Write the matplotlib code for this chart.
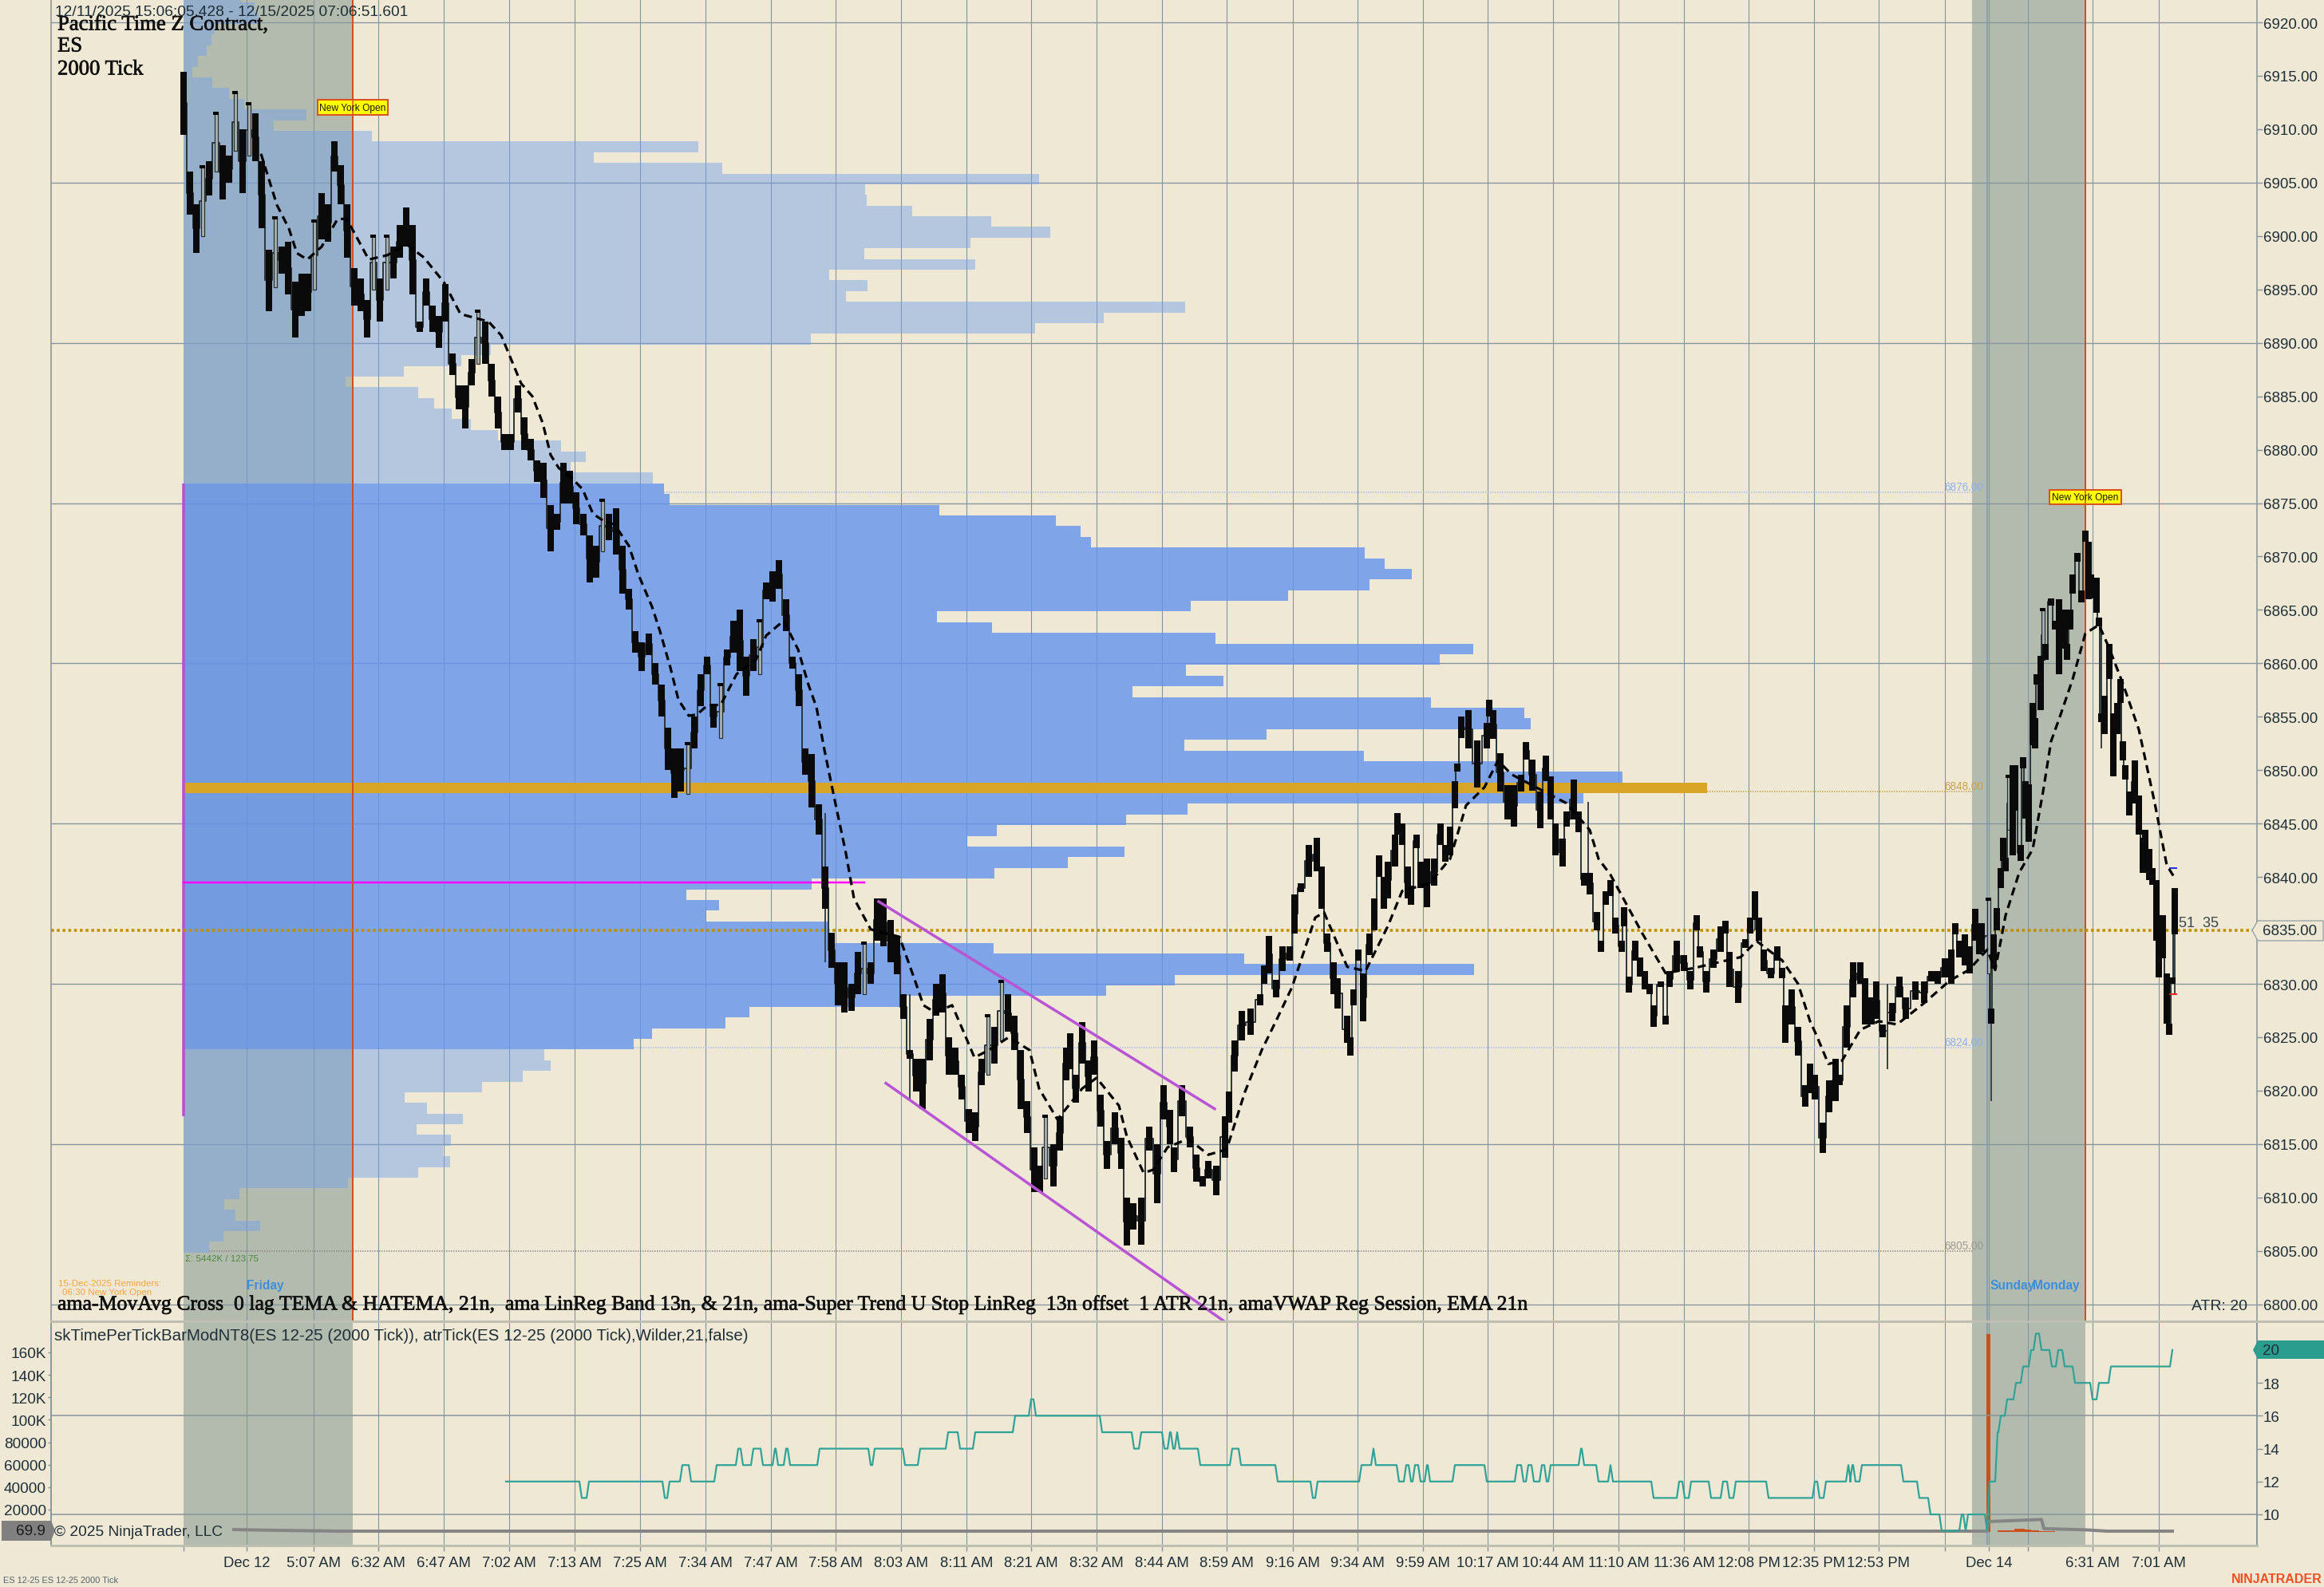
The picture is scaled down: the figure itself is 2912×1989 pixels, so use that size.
import matplotlib
matplotlib.use("Agg")
import matplotlib.pyplot as plt
import matplotlib.patheffects as pe
from matplotlib.patches import Polygon, Rectangle

# chart x is measured in screen slots of the platform, one unit = one reference pixel
W, H = 2912, 1990
BG = "#EFE8D5"
TXT = "#1E2F38"
GRID = "#84949C"

price_ticks = list(range(6800, 6925, 5))
grid_prices = list(range(6800, 6925, 15))
tick_x = [230, 309, 393, 474, 556, 638, 720, 802, 884, 966, 1047, 1129, 1211, 1292, 1374, 1456, 1537,
          1620, 1701, 1783, 1864, 1946, 2028, 2110, 2191, 2273, 2354, 2437, 2492, 2541, 2622, 2705]
tick_labels = ["", "Dec 12", "5:07 AM", "6:32 AM", "6:47 AM", "7:02 AM", "7:13 AM", "7:25 AM", "7:34 AM",
               "7:47 AM", "7:58 AM", "8:03 AM", "8:11 AM", "8:21 AM", "8:32 AM", "8:44 AM", "8:59 AM",
               "9:16 AM", "9:34 AM", "9:59 AM", "10:17 AM", "10:44 AM", "11:10 AM", "11:36 AM", "12:08 PM",
               "12:35 PM", "12:53 PM", "", "Dec 14", "", "6:31 AM", "7:01 AM"]

# volume profile, one entry per price level from 6922 down to 6805
profile_top = 6922
profile_right = [302, 319, 324, 269, 265, 259, 248, 241, 266, 287, 306, 384, 343, 466, 875, 744, 905, 1302,
                 1084, 1086, 1143, 1242, 1316, 1216, 1083, 1222, 1039, 1087, 1060, 1485, 1383, 1297, 1016,
                 615, 578, 506, 433, 524, 544, 566, 590, 624, 703, 734, 715, 818,
                 832, 839, 1177, 1323, 1354, 1367, 1710, 1735, 1769, 1716, 1614, 1492, 1174, 1243, 1523,
                 1846, 1804, 1486, 1533, 1419, 1793, 1910, 1918, 1587, 1484, 1709, 1880, 2033, 2139, 1984,
                 1488, 1411, 1249, 1212, 1409, 1338, 1246, 1017, 860, 901, 884, 1039, 1039, 1245, 1559,
                 1847, 1472, 1386, 1127, 939, 909, 817, 794,
                 682, 690, 655, 604, 507, 535, 580, 522, 565, 555, 564, 524, 436, 300, 281, 295, 326, 280, 262]
value_area_high = 6876
value_area_low = 6824
poc_level = 6848

# candles: slot, body top, body bottom
bar_x = [230, 238, 246, 254, 262, 271, 279, 287, 295, 304, 312, 320, 328, 337, 345, 353, 361, 370, 378, 386,
         394, 403, 411, 419, 427, 435, 444, 452, 460, 468, 476, 485, 493, 501, 509, 517, 526, 534, 542, 550,
         558, 567, 575, 583, 591, 599, 608, 616, 624, 632, 640, 649, 657, 665, 673, 681, 690, 698, 706, 714,
         722, 731, 739, 747, 755, 763, 772, 780, 788, 796, 804, 813, 821, 829, 837, 845, 853, 862, 870, 878,
         886, 894, 903, 911, 919, 927, 935, 944, 952, 960, 968, 976, 985, 993, 1001, 1009, 1017, 1026, 1034,
         1042, 1050, 1058, 1067, 1075, 1083, 1091, 1099, 1107, 1116, 1124, 1132, 1140, 1148, 1156, 1165, 1173,
         1181, 1189, 1197, 1205, 1214, 1222, 1230, 1238, 1246, 1255, 1263, 1271, 1279, 1287, 1296, 1303, 1310,
         1320, 1328, 1336, 1341, 1348, 1356, 1364, 1371, 1379, 1387, 1397, 1405, 1412, 1420, 1430, 1440, 1450,
         1458, 1466, 1471, 1481, 1491, 1499, 1507, 1514, 1524, 1535, 1540, 1547, 1556, 1567, 1579, 1584, 1590,
         1599, 1607, 1616, 1622, 1630, 1640, 1650, 1656, 1663, 1671, 1676, 1688, 1692, 1696, 1702, 1708, 1716,
         1722, 1728, 1734, 1739, 1748, 1751, 1757, 1764, 1768, 1775, 1780, 1788, 1797, 1805, 1811, 1817, 1823,
         1826, 1831, 1840, 1851, 1863, 1866, 1871, 1880, 1889, 1897, 1906, 1912, 1920, 1930, 1937, 1943, 1949,
         1958, 1963, 1972, 1978, 1985, 1992, 2001, 2006, 2012, 2018, 2024, 2032, 2035, 2041, 2049, 2055, 2061,
         2067, 2072, 2081, 2087, 2092, 2101, 2110, 2118, 2126, 2130, 2138, 2147, 2156, 2162, 2167, 2178, 2187,
         2193, 2199, 2204, 2210, 2219, 2227, 2233, 2237, 2245, 2253, 2262, 2268, 2274, 2284, 2292, 2300, 2305,
         2314, 2322, 2331, 2337, 2345, 2351, 2359, 2371, 2380, 2388, 2400, 2411, 2420, 2428, 2437, 2445, 2450,
         2455, 2462, 2468, 2475, 2480, 2483, 2492, 2495, 2498, 2502, 2507, 2510, 2513, 2517, 2522, 2525, 2532,
         2535, 2538, 2542, 2547, 2550, 2552, 2557, 2560, 2563, 2570, 2575, 2580, 2587, 2590, 2594, 2597, 2603,
         2608, 2613, 2617, 2620, 2627, 2630, 2633, 2637, 2643, 2648, 2653, 2657, 2660, 2663, 2668, 2675, 2680,
         2685, 2688, 2693, 2697, 2702, 2705, 2710, 2715, 2718, 2722, 2725]
bar_hi = [6915.4, 6906, 6903, 6906.5, 6907, 6911.5, 6908.5, 6907.5, 6913.4, 6910, 6912.4, 6911.5, 6907, 6898.7, 6901.7,
          6899, 6899.5, 6895.7, 6896.5, 6896.5, 6901.4, 6904, 6903, 6908.9, 6906.6, 6903, 6897, 6896, 6894, 6900,
          6896, 6900, 6899, 6901, 6902.7, 6901, 6892, 6896, 6893.5, 6892.5, 6895.5, 6889, 6886, 6886, 6888.5, 6893,
          6892, 6888, 6885, 6881.5, 6881.5, 6886, 6883, 6881, 6879, 6878.8, 6874.8, 6874, 6878.8, 6878, 6876, 6874,
          6872, 6871, 6875.3, 6874, 6874.5, 6871, 6867, 6863, 6862, 6862.8, 6860, 6858, 6854, 6852, 6852, 6852.5,
          6855, 6859, 6860.6, 6856, 6858, 6861.3, 6864, 6865, 6860.6, 6862.3, 6864, 6867.6, 6868.6, 6869.7, 6866,
          6860.6, 6859, 6852, 6851.5, 6846.8, 6841, 6834.8, 6832, 6832, 6830, 6833, 6833.8, 6832, 6838, 6838, 6836,
          6834.4, 6829, 6823.8, 6823, 6823, 6826.7, 6830, 6830.9, 6825, 6824, 6821.5, 6818.3, 6818, 6823, 6827,
          6826, 6830.2, 6829, 6827, 6823.8, 6819, 6814.7, 6813, 6817.6, 6815, 6817.6, 6824, 6825.4, 6821.5, 6826.4,
          6822.8, 6824.7, 6819.6, 6815.3, 6818, 6815.6, 6810, 6809.5, 6810, 6816.6, 6815, 6820.5, 6818.2, 6814.7,
          6820.5, 6816.6, 6814, 6812, 6813.4, 6813, 6817.6, 6819.9, 6824.7, 6827.5, 6827.7, 6829, 6831.7, 6834.5,
          6830.4, 6833.5, 6833.5, 6838.4, 6839.4, 6843, 6843.7, 6841, 6834.7, 6832, 6830.5, 6827, 6825, 6829.5,
          6833.2, 6831, 6834.7, 6838, 6842, 6840, 6841.4, 6844, 6846, 6845, 6841, 6839.2, 6844, 6841.4, 6841.7,
          6841.7, 6845, 6843, 6844.7, 6849, 6850.6, 6855, 6855.6, 6852.8, 6854.4, 6856.6, 6855.6, 6851.6, 6848.6,
          6848.6, 6849.6, 6852.6, 6851, 6848, 6851.4, 6849.4, 6845, 6843.6, 6846.1, 6849.1, 6846.1, 6840.4, 6840.4,
          6836.7, 6834, 6838.7, 6839.7, 6836.2, 6834, 6837.2, 6830.7, 6834, 6832.5, 6831.2, 6830, 6828, 6830.2,
          6827, 6831.2, 6834, 6832.7, 6831.2, 6836.4, 6833.5, 6831.2, 6833.2, 6835.4, 6835.9, 6833, 6831.2, 6834.2,
          6836.2, 6838.7, 6836.2, 6833.2, 6831.5, 6833.5, 6831.5, 6828, 6829.5, 6826, 6820.5, 6822.5, 6821.5, 6817,
          6821, 6823, 6821.5, 6828, 6832, 6832, 6830.5, 6828.7, 6830.2, 6826.2, 6828.2, 6830.7, 6828.7, 6830.2,
          6830.2, 6831.2, 6831.2, 6832.4, 6833.2, 6835.7, 6834, 6834.6, 6833.5, 6837, 6835.7, 6835.7, 6837.9, 6827.7,
          6834.6, 6837.1, 6840.8, 6843.7, 6841.8, 6849.4, 6850.5, 6850.5, 6843, 6851.2, 6849, 6848.7, 6856.3, 6854.9,
          6859, 6860.7, 6865, 6861.8, 6866.1, 6864, 6866, 6865, 6861.8, 6865, 6868.3, 6870.3, 6866.8, 6872.4, 6871.4,
          6868.3, 6868, 6864.3, 6855.3, 6857, 6861.8, 6855.3, 6856.3, 6858.5, 6852.7, 6850.5, 6848, 6850.9, 6847.6,
          6843.7, 6844.4, 6842.6, 6840.8, 6839.7, 6834, 6836.4, 6831, 6826.3, 6830.6, 6839]
bar_lo = [6909.5, 6902, 6898.4, 6900, 6903.8, 6906, 6903.4, 6905, 6908, 6904, 6907.5, 6907, 6900.7, 6893, 6895.2,
          6896.5, 6894.5, 6890.5, 6892.5, 6893, 6895, 6899.7, 6899.5, 6906, 6903, 6898, 6893.5, 6893, 6890.5, 6895,
          6892, 6895, 6896, 6898, 6899, 6894.5, 6891, 6893.5, 6891, 6889.5, 6892, 6887, 6883.8, 6882, 6886, 6888,
          6888, 6885, 6882, 6880, 6880, 6883.5, 6880, 6879, 6877, 6875.5, 6870.5, 6872.5, 6875, 6875, 6873, 6872,
          6867.6, 6868, 6870.5, 6871.5, 6870.2, 6866.5, 6865, 6861, 6859.3, 6860.8, 6858, 6855, 6850, 6847.4, 6848,
          6847.8, 6852, 6856, 6859, 6854, 6853, 6859.8, 6861, 6859.3, 6857, 6859.3, 6859, 6866, 6865.8, 6867, 6863,
          6859.5, 6856, 6849.6, 6846.5, 6844, 6837, 6831.5, 6828, 6827.3, 6827.5, 6829, 6829, 6830, 6834, 6833.5,
          6832, 6830.9, 6826.7, 6823, 6819.9, 6818.3, 6822.8, 6827, 6827.3, 6821.5, 6821.5, 6819.2, 6816, 6815.3,
          6820.5, 6821.5, 6822.5, 6824.7, 6825.5, 6823.8, 6818.3, 6816, 6810.5, 6810.5, 6811.8, 6811, 6814.4, 6821,
          6822, 6818.9, 6822.5, 6819.9, 6821.5, 6816.6, 6812.7, 6815, 6812.7, 6805.5, 6807, 6805.6, 6814.4, 6809.5,
          6817.3, 6815, 6812.4, 6817.6, 6814.7, 6811.5, 6811, 6811.8, 6810.2, 6813.7, 6817, 6821.8, 6824.7, 6825.2,
          6828, 6830, 6831, 6828.7, 6831.2, 6832.2, 6834.7, 6838.6, 6840, 6840.5, 6837, 6833, 6829, 6827.7, 6824.5,
          6823.3, 6828, 6832.2, 6826.5, 6832.7, 6835, 6840, 6837, 6838, 6841, 6844, 6843, 6838, 6837.4, 6842.7, 6839,
          6837.2, 6839.2, 6843, 6841.4, 6842, 6846.4, 6849.9, 6853, 6852, 6848.4, 6852, 6855, 6852.9, 6848, 6845.4,
          6844.7, 6848, 6851, 6848.1, 6844.6, 6849, 6845.4, 6842, 6841, 6844.7, 6845.4, 6844.2, 6839.2, 6838.4, 6835,
          6833, 6837.4, 6838.2, 6834.7, 6833, 6835.4, 6829.2, 6832.2, 6830.7, 6829.5, 6829, 6826, 6829.7, 6826.2,
          6829.7, 6831.2, 6831.2, 6829.5, 6835, 6832.5, 6829.2, 6831.5, 6833, 6834.7, 6829.7, 6828.2, 6833.4, 6834.7,
          6836, 6834, 6831.2, 6830.5, 6832.2, 6830.5, 6824.5, 6826.2, 6823.3, 6818.5, 6819.8, 6819.2, 6814.2, 6818,
          6819, 6820.5, 6824, 6828.7, 6830, 6826.2, 6826.2, 6826.7, 6825, 6826.5, 6828.7, 6826.7, 6828.5, 6828.2,
          6830.2, 6830, 6830.6, 6830, 6834.6, 6832.5, 6831.7, 6831, 6834, 6832.8, 6833, 6831, 6826.3, 6831.4, 6835,
          6839, 6841.5, 6840.5, 6844.4, 6842, 6846.2, 6841.5, 6850.2, 6845.5, 6843.3, 6852.3, 6852, 6858, 6855.6,
          6860.3, 6860.3, 6865.4, 6863.2, 6859, 6861.4, 6860.3, 6863.2, 6866.5, 6869.5, 6865.7, 6871.4, 6866, 6866.1,
          6864.7, 6863.5, 6854.5, 6853.4, 6858.5, 6849.4, 6853.4, 6856.3, 6850.9, 6849.1, 6845.8, 6846.9, 6844, 6840.4,
          6841.1, 6839.7, 6839.3, 6834, 6830.6, 6832.4, 6826.3, 6825.2, 6830, 6834.6]
# long thin wicks
wick_x = [2199, 2365, 2495, 2580, 1034, 1140, 1990, 2633, 2725]
wick_hi = [6838.7, 6830, 6831, 6866, 6846, 6829, 6847, 6864, 6839]
wick_lo = [6835, 6822, 6819, 6859, 6832, 6819, 6839, 6852, 6829]

# EMA 21 dashed line
ema_x = [327, 347, 362, 372, 385, 403, 423, 434, 444, 462, 485, 510, 531, 556, 577, 612, 628, 653, 667, 680, 690,
         700, 717, 730, 743, 757, 770, 788, 800, 817, 827, 840, 850, 863, 873, 887, 903, 923, 947, 960, 982, 1000,
         1013, 1023, 1033, 1042, 1060, 1070, 1091, 1127, 1147, 1157, 1172, 1193, 1208, 1221, 1239, 1264, 1290,
         1302, 1325, 1356, 1374, 1402, 1412, 1433, 1445, 1463, 1489, 1514, 1537, 1560, 1581, 1600, 1619, 1648,
         1659, 1688, 1711, 1739, 1757, 1791, 1817, 1837, 1860, 1877, 1894, 1963, 1992, 2003, 2018, 2058, 2087,
         2124, 2181, 2201, 2233, 2253, 2268, 2276, 2291, 2308, 2331, 2354, 2377, 2411, 2443, 2467, 2490, 2500,
         2513, 2530, 2547, 2560, 2570, 2582, 2597, 2613, 2630, 2643, 2660, 2680, 2700, 2715, 2725]
ema_p = [6907.7, 6902.9, 6900.7, 6898.4, 6897.8, 6899, 6901.6, 6901.6, 6900.3, 6897.8, 6898.2, 6899.2, 6898, 6895.7,
         6892.7, 6892, 6890.7, 6886.2, 6885, 6882.5, 6879.5, 6878.3, 6877.3, 6876.3, 6874, 6873.3, 6873, 6871, 6868.3,
         6865.3, 6863, 6859.6, 6856.6, 6855.1, 6855.2, 6856.1, 6856.1, 6859, 6860.3, 6862.6, 6864, 6861.3, 6858, 6855.9,
         6851.9, 6848.6, 6842.2, 6838, 6835.1, 6834.4, 6830.2, 6828, 6827.3, 6828, 6825.4, 6823.1, 6823.8, 6825, 6823.8,
         6820.2, 6817.3, 6820.2, 6821.2, 6818.6, 6815.7, 6812.3, 6812.6, 6814.7, 6815.5, 6814, 6814.5, 6819.9, 6823.8,
         6826.7, 6829.7, 6836.2, 6836.7, 6831.6, 6831.2, 6835.4, 6838.7, 6839.4, 6841.7, 6846.7, 6848.4, 6850.9, 6849.6,
         6846.9, 6844.4, 6841.7, 6840.2, 6834.7, 6831, 6831.5, 6832.5, 6834, 6832.2, 6830, 6826.5, 6825.2, 6822.5, 6822.8,
         6825.7, 6826.5, 6826.2, 6828.2, 6830.3, 6831.3, 6833.2, 6831.3, 6836.4, 6840.4, 6842.6, 6848, 6852.7, 6855.2,
         6858.5, 6862.8, 6863.6, 6861.4, 6858.1, 6853.8, 6846.9, 6841.1, 6839.9]

# ATR: slot where the value changes, new value
atr_x = [634, 729, 738, 833, 839, 855, 866, 898, 925, 931, 944, 956, 971, 975, 985, 990, 1027, 1091, 1096, 1134, 1153,
         1188, 1203, 1222, 1272, 1292, 1298, 1381, 1421, 1430, 1459, 1466, 1470, 1475, 1478, 1504, 1544, 1555, 1601,
         1645, 1651, 1706, 1721, 1724, 1753, 1762, 1768, 1773, 1780, 1788, 1792, 1823, 1863, 1901, 1909, 1915, 1922,
         1932, 1938, 1943, 1981, 1985, 2003, 2018, 2021, 2072, 2104, 2111, 2119, 2144, 2159, 2167, 2175, 2216, 2274,
         2280, 2288, 2316, 2319, 2321, 2325, 2333, 2385, 2405, 2419, 2433, 2458, 2463, 2466, 2470, 2490, 2493, 2503,
         2507, 2515, 2526, 2535, 2545, 2551, 2558, 2571, 2579, 2587, 2600, 2622, 2630, 2645, 2718, 2722]
atr_v = [12, 11, 12, 11, 12, 13, 12, 13, 14, 13, 14, 13, 14, 13, 14, 13, 14, 13, 14, 13, 14,
         15, 14, 15, 16, 17, 16, 15, 14, 15, 14, 15, 14, 15, 14, 13, 14, 13, 12,
         11, 12, 13, 14, 13, 12, 13, 12, 13, 12, 13, 12, 13, 12, 13, 12, 13, 12,
         13, 12, 13, 14, 13, 12, 13, 12, 11, 12, 11, 12, 11, 12, 11, 12, 11, 12,
         11, 12, 13, 12, 13, 12, 13, 12, 11, 10, 9, 10, 9, 10, 10, 9, 12, 15,
         16, 17, 18, 19, 20, 21, 20, 19, 20, 19, 18, 17, 18, 19, 19, 20]

# time per tick: grey line and orange bars (thousands)
tpt_x = [293, 348, 427, 2490, 2491, 2558, 2561, 2612, 2640, 2722]
tpt_k = [2.2, 1.5, 0.8, 0.8, 9.3, 11.2, 3.0, 2.0, 0.8, 0.8]
spike_x = [2492, 2503, 2512, 2520, 2528, 2533, 2541, 2550, 2560, 2575]
spike_k = [176, 1.2, 1.5, 1.5, 3.0, 3.2, 2.2, 1.2, 0.8, 0.8]
k_ticks = [20, 40, 60, 80, 100, 120, 140, 160]
k_labels = ["20000", "40000", "60000", "80000", "100K", "120K", "140K", "160K"]
atr_ticks = [10, 12, 14, 16, 18]
atr_grid = [10, 16]


def ppt(px):
    return px * 0.72


def fx(px):
    return px / W


def fy(py):
    return 1 - py / H


fig = plt.figure(figsize=(W / 100, H / 100), dpi=100, facecolor=BG)
ax = fig.add_axes([fx(64), fy(1657), (2828 - 64) / W, 1657 / H], facecolor=BG)
low = fig.add_axes([fx(64), fy(1938), (2828 - 64) / W, (1938 - 1657) / H], facecolor=BG)
for a in (ax, low):
    a.set_xlim(64, 2828)
    a.set_axisbelow(False)
ax.set_ylim(6798.41, 6922.17)
low.set_ylim(-12, 187.7)

# session shading
for a in (ax, low):
    a.axvspan(230, 442, color="#B3BBAE", lw=0, zorder=1)
    a.axvspan(2471, 2613, color="#B3BBAE", lw=0, zorder=1)
    for x in tick_x[1:]:
        a.axvline(x, color=GRID, lw=ppt(1.1), zorder=2)
    a.axvline(2490, color="#7F93C8", lw=ppt(1.5), zorder=2.5)

for p in grid_prices:
    ax.axhline(p, color=GRID, lw=ppt(1.3), zorder=2)

# profile
levels = [profile_top - i for i in range(len(profile_right))]
for lev, right in zip(levels, profile_right):
    inside = value_area_low <= lev <= value_area_high
    ax.barh(lev - 0.15, right - 230, height=1.0, left=230, align="edge", lw=0, zorder=3,
            color="#6393ED" if inside else "#73A1EC", alpha=0.8 if inside else 0.467)
ax.barh(poc_level - 0.15, profile_right[profile_top - poc_level] - 230, height=1.0, left=230, align="edge",
        color="#D9A527", lw=0, zorder=3.2)

# reference levels of the profile
ax.plot([832, 2472], [6876, 6876], color="#A9BFE6", lw=ppt(1.5), ls=(0, (1, 1)), zorder=3.1)
ax.plot([2139, 2472], [6848, 6848], color="#C9A24B", lw=ppt(1.5), ls=(0, (1, 1)), zorder=3.1)
ax.plot([794, 2472], [6824, 6824], color="#A9BFE6", lw=ppt(1.5), ls=(0, (1, 1)), zorder=3.1)
ax.plot([262, 2472], [6805, 6805], color="#8A8A84", lw=ppt(1.5), ls=(0, (1, 1)), zorder=3.1)
for lev, col in zip([6876, 6848, 6824, 6805], ["#8FB0E8", "#C9A24B", "#8FB0E8", "#9A9A94"]):
    ax.annotate(f"{lev}.00", (2436, lev), xytext=(0, 0), textcoords="offset points", fontsize=ppt(13.5),
                color=col, family="Liberation Sans", va="bottom", ha="left", zorder=3.1)

ax.plot([230, 230], [6876.8, 6817.6], color="#B94FD0", lw=ppt(3.5), zorder=4, solid_capstyle="butt")
ax.plot([230, 1083], [6839.5, 6839.5], color="#FF00FF", lw=ppt(2.5), zorder=4)
for x in (442, 2613):
    ax.axvline(x, color="#D2501E", lw=ppt(2), zorder=4)
ax.plot([64, 2828], [6835, 6835], color="#BF9000", lw=ppt(3.6), ls=(0, (1, 1)), zorder=4)

# channel
ax.plot([1101, 1522], [6837.7, 6818.3], color="#B955D5", lw=ppt(3.5), zorder=6)
ax.plot([1110, 1536], [6820.7, 6798.3], color="#B955D5", lw=ppt(3.5), zorder=6)

# candles
mids = [(h + l) / 2 for h, l in zip(bar_hi, bar_lo)]
ax.plot(bar_x, mids, color="#2E383A", lw=ppt(2), zorder=5, drawstyle="steps-mid")
ax.vlines(wick_x, wick_lo, wick_hi, color="#3A4648", lw=ppt(2), zorder=5)
for i, (x, h, l) in enumerate(zip(bar_x, bar_hi, bar_lo)):
    up = i > 0 and mids[i] > mids[i - 1]
    if up and h - l >= 4.5:
        ax.bar(x, h - l, bottom=l, width=4, color="#A9B2B0", edgecolor="#26302F", lw=ppt(1.2), zorder=5.2)
        ax.plot([x - 3.5, x + 3.5], [h, h], color="black", lw=ppt(4), zorder=5.3, solid_capstyle="butt")
    else:
        ax.bar(x, h - l, bottom=l, width=7.5, color="#0A0A0A", lw=0, zorder=5.3)
ax.plot(ema_x, ema_p, color="black", lw=ppt(3.2), ls=(0, (3.2, 2)), zorder=5.5)
ax.plot([2719, 2727], [6840.8, 6840.8], color="#2030E0", lw=ppt(2), zorder=6)
ax.plot([2719, 2727], [6829, 6829], color="#F02020", lw=ppt(2), zorder=6)

# price axis
ax.yaxis.tick_right()
ax.set_yticks(price_ticks)
ax.set_yticklabels([f"{p}.00" for p in price_ticks])
ax.tick_params(axis="y", length=ppt(7), width=1, color=GRID, pad=ppt(1), labelsize=ppt(18.8), labelcolor=TXT)
for t in ax.get_yticklabels():
    t.set_family("Liberation Sans")
ax.set_xticks([])

# lower panel
low.bar(spike_x[0], spike_k[0], width=5, color="#C9501C", lw=0, zorder=4)
low.fill_between(spike_x[1:], 0.4, spike_k[1:], color="#C9501C", lw=0, zorder=4, step="mid")
low.plot(tpt_x, tpt_k, color="#858585", lw=ppt(4), zorder=5)
low.set_yticks(k_ticks)
low.set_yticklabels(k_labels)
low.tick_params(axis="y", length=ppt(4), width=1, color=GRID, pad=ppt(2), labelsize=ppt(19), labelcolor=TXT)
low.set_xticks(tick_x)
low.set_xticklabels(tick_labels)
low.tick_params(axis="x", length=ppt(7), width=1, color=GRID, pad=ppt(6), labelsize=ppt(18.5), labelcolor=TXT)
for t in low.get_yticklabels() + low.get_xticklabels():
    t.set_family("Liberation Sans")

atr = low.twinx()
atr.set_xlim(64, 2828)
atr.set_ylim(10 - (1938 - 1899) / 20.6, 10 + (1899 - 1657) / 20.6)
atr.patch.set_visible(False)
for v in atr_grid:
    atr.axhline(v, color=GRID, lw=ppt(1.5), zorder=2)
line_x, line_v = [], []
for i, (x, v) in enumerate(zip(atr_x, atr_v)):
    line_x.append(x)
    line_v.append(v)
    if i + 1 < len(atr_x):
        line_x.append(atr_x[i + 1] - 3)
        line_v.append(v)
atr.plot(line_x, line_v, color="#2FA397", lw=ppt(2.2), zorder=3)
atr.set_yticks(atr_ticks)
atr.tick_params(axis="y", length=ppt(7), width=1, color=GRID, pad=ppt(1), labelsize=ppt(18.8), labelcolor=TXT)
for t in atr.get_yticklabels():
    t.set_family("Liberation Sans")

for a in (ax, low, atr):
    for side in ("top", "bottom"):
        a.spines[side].set_visible(False)
    a.spines["left"].set_color(GRID)
    a.spines["right"].set_color(GRID)
    a.spines["left"].set_linewidth(ppt(1.5))
    a.spines["right"].set_linewidth(ppt(1.5))

# panel separators
for yy in (1657, 1938):
    fig.add_artist(plt.Line2D([fx(64), fx(2912) if yy == 1657 else fx(2828)], [fy(yy), fy(yy)], color="#BDBFB0",
                              lw=ppt(3), zorder=8))


def label(px, py, s, size, color=TXT, family="Liberation Sans", ha="left", va="center", **kw):
    return fig.text(fx(px), fy(py), s, fontsize=ppt(size), color=color, family=family, ha=ha, va=va, zorder=20, **kw)


def serif(px, py, s, size=26.7):
    t = label(px, py, s, size, color="#111111", family="Liberation Serif")
    t.set_path_effects([pe.withStroke(linewidth=0.5, foreground="#111111")])


label(69, 16, "12/11/2025 15:06:05.428 - 12/15/2025 07:06:51.601", 19.2)
serif(72, 32, "Pacific Time Z Contract,")
serif(72, 59, "ES")
serif(72, 88, "2000 Tick")
serif(72, 1636, "ama-MovAvg Cross  0 lag TEMA & HATEMA, 21n,  ama LinReg Band 13n, & 21n, ama-Super Trend U Stop LinReg  13n offset  1 ATR 21n, amaVWAP Reg Session, EMA 21n", 25.8)
label(68, 1675, "skTimePerTickBarModNT8(ES 12-25 (2000 Tick)), atrTick(ES 12-25 (2000 Tick),Wilder,21,false)", 20.5)
label(68, 1921, "© 2025 NinjaTrader, LLC", 19.2)
label(309, 1612, "Friday", 15.5, color="#3C8EDC", fontweight="bold")
label(2493, 1612, "Sunday", 15.5, color="#3C8EDC", fontweight="bold")
label(2547, 1612, "Monday", 15.5, color="#3C8EDC", fontweight="bold")
label(73, 1609, "15-Dec-2025 Reminders:", 11.5, color="#F7A63C")
label(78, 1620, "06:30 New York Open", 11.5, color="#F7A63C")
label(232, 1578, "Σ: 5442K / 123.75", 11.5, color="#4C8A3C")
label(2816, 1638, "ATR: 20", 19.5, ha="right")
label(2730, 1157, "51  35", 18, color="#3A4648")
label(4, 1981, "ES 12-25 ES 12-25 2000 Tick", 11, color="#56636A")
label(2910, 1980, "NINJATRADER", 16, color="#F04E23", fontweight="bold", ha="right")

# value markers on the axes
fig.add_artist(Polygon([(fx(2823), fy(1693)), (fx(2829), fy(1681)), (fx(2912), fy(1681)), (fx(2912), fy(1704)),
                        (fx(2829), fy(1704))], closed=True, transform=fig.transFigure, fc="#2A9D8F", ec="none", zorder=15))
label(2835, 1693, "20", 18.8)
fig.add_artist(Polygon([(fx(2822), fy(1167)), (fx(2829), fy(1155)), (fx(2911), fy(1155)), (fx(2911), fy(1180)),
                        (fx(2829), fy(1180))], closed=True, transform=fig.transFigure, fc=BG, ec="#9AA5A8", lw=1, zorder=15))
label(2835, 1168, "6835.00", 18.8)
fig.add_artist(Polygon([(fx(2), fy(1907)), (fx(64), fy(1907)), (fx(69), fy(1919)), (fx(64), fy(1932)), (fx(2), fy(1932))],
                       closed=True, transform=fig.transFigure, fc="#808080", ec="none", zorder=15))
label(38, 1920, "69.9", 19, ha="center", color="#1A1A1A")

# New York Open notes
for cx, cy, w, h in [(442, 135.5, 88, 19), (2613, 624, 90, 18)]:
    fig.add_artist(Rectangle((fx(cx - w / 2), fy(cy + h / 2)), w / W, h / H, transform=fig.transFigure, fc="#FFFF00",
                             ec="#D9541E", lw=ppt(2), zorder=15))
    label(cx, cy, "New York Open", 12, color="#1A1A1A", ha="center")
    fig.add_artist(plt.Line2D([fx(cx), fx(cx)], [fy(cy + h / 2), fy(cy - h / 2)], color="#D2501E", lw=ppt(1.5), zorder=16))

plt.savefig("out.png", dpi=100, facecolor=BG)
plt.close()
